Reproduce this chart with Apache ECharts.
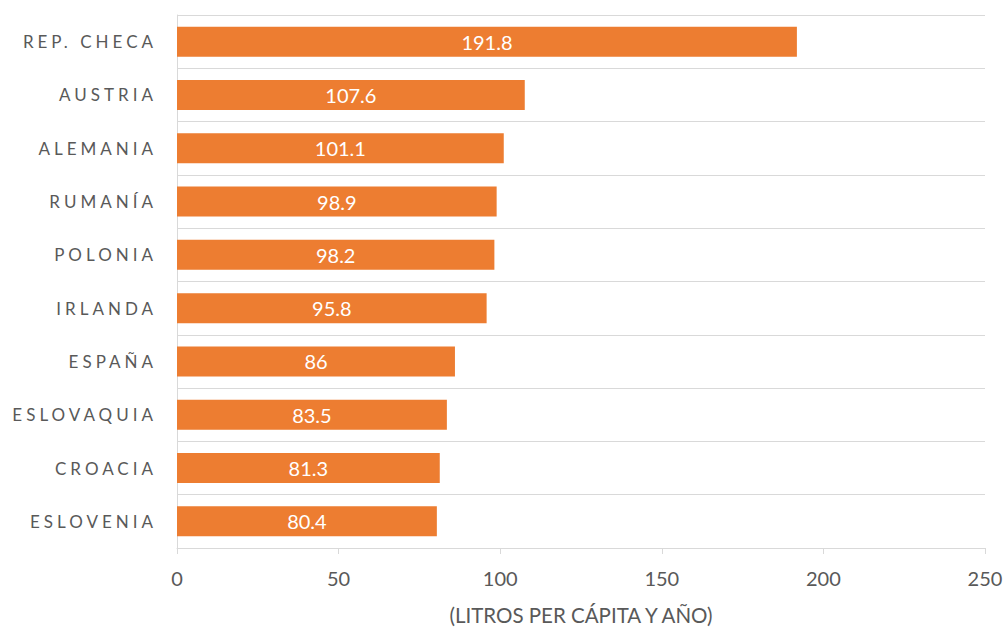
<!DOCTYPE html>
<html>
<head>
<meta charset="utf-8">
<script src="https://cdn.jsdelivr.net/npm/echarts@6/dist/echarts.min.js"></script>
<style>
html,body{margin:0;padding:0;background:#fff;}
#chart{width:1005px;height:628px;}
</style>
</head>
<body>
<div id="chart"></div>
<script>
const categories = ['REP. CHECA','AUSTRIA','ALEMANIA','RUMANÍA','POLONIA','IRLANDA','ESPAÑA','ESLOVAQUIA','CROACIA','ESLOVENIA'];
const values = [191.8,107.6,101.1,98.9,98.2,95.8,86,83.5,81.3,80.4];
const xTicks = [0,50,100,150,200,250];
const axisTitle = '(LITROS PER CÁPITA Y AÑO)';

const chart = echarts.init(document.getElementById('chart'), null, {renderer:'svg'});
const font = 'Lato, "Open Sans", sans-serif';
chart.setOption({
  animation:false,
  backgroundColor:'#fff',
  textStyle:{fontFamily:font},
  grid:{left:177,right:20,top:15,bottom:80,outerBoundsMode:'none',containLabel:false},
  xAxis:{
    type:'value',min:xTicks[0],max:xTicks[xTicks.length-1],interval:50,
    axisLine:{show:true,lineStyle:{color:'#d9d9d9',width:1}},
    axisTick:{show:true,length:6,lineStyle:{color:'#d9d9d9'}},
    splitLine:{show:false},
    axisLabel:{color:'#595959',fontSize:20,margin:20,fontFamily:font},
    name:axisTitle,nameLocation:'middle',nameGap:56,
    nameTextStyle:{color:'#595959',fontSize:20.5,fontFamily:font}
  },
  yAxis:{
    type:'category',inverse:true,data:categories,
    axisLine:{show:true,lineStyle:{color:'#d9d9d9',width:1}},
    axisTick:{show:false},
    splitLine:{show:true,lineStyle:{color:'#d9d9d9',width:1}},
    axisLabel:{color:'#595959',fontSize:17,margin:20,fontFamily:font}
  },
  series:[{
    type:'bar',data:values,barWidth:30,
    itemStyle:{color:'#ED7D31'},
    label:{show:true,position:'inside',color:'#fff',fontSize:20,fontFamily:font}
  }]
});
function spaceLabels(){
  document.querySelectorAll('#chart text').forEach(t=>{
    if(categories.indexOf(t.textContent)>=0){t.style.letterSpacing='4px';}
  });
}
spaceLabels();
chart.on('finished',spaceLabels);
</script>
</body>
</html>
